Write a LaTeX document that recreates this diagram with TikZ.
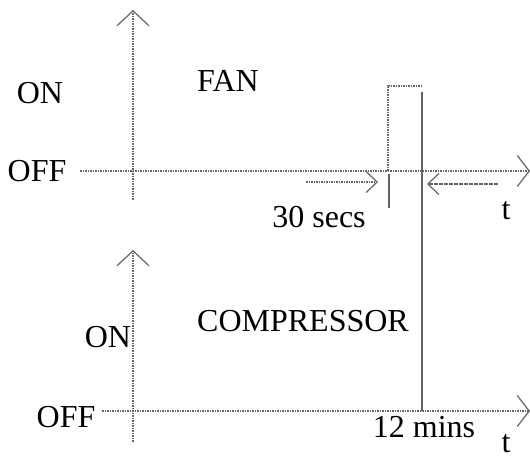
\documentclass[tikz,border=0pt]{standalone}
\usepackage{fontspec}
\setmainfont{Liberation Serif}
\usetikzlibrary{arrows.meta}
\definecolor{lineg}{RGB}{100,100,100}

\begin{document}
\begin{tikzpicture}[
  x=0.5pt, y=-0.5pt,
  lbl/.style={inner sep=0pt, font=\fontsize{16}{19}\selectfont},
  axis/.style={draw=lineg, line width=1.15pt, dash pattern=on 0.9pt off 0.35pt},
  guide/.style={draw=lineg, line width=0.6pt},
  axishead/.style={-{Straight Barb[length=7.5pt, width=16pt, line width=0.6pt]}},
  lowhead/.style={-{Straight Barb[length=6pt, width=15.5pt, line width=0.6pt]}},
  gaphead/.style={-{Straight Barb[length=5.5pt, width=10.5pt, line width=0.6pt]}}
]
\useasboundingbox (0,0) rectangle (530,459);

% fan chart
\coordinate (fantop) at (133,10);
\coordinate (fanbot) at (133,200);
\coordinate (fanleft) at (80,171);
\coordinate (fanright) at (530,171);
\coordinate (pulsebase) at (388,171);
\coordinate (pulseend) at (421,86);
\coordinate (ticktop) at (389,174);
\coordinate (tickbot) at (389,208);
\coordinate (gapafrom) at (306,182);
\coordinate (gapato) at (378,182);
\coordinate (gapbfrom) at (498,184);
\coordinate (gapbto) at (427,184);

% compressor chart
\coordinate (comptop) at (133,250);
\coordinate (compbot) at (133,442);
\coordinate (compleft) at (102,411);
\coordinate (compright) at (530,411);
\coordinate (stoptop) at (422,92);
\coordinate (stopbot) at (422,411);

\draw[axis, axishead] (fanbot) -- (fantop);
\draw[axis, lowhead] (fanleft) -- (fanright);
\draw[axis] (pulsebase) |- (pulseend);
\draw[guide] (ticktop) -- (tickbot);
\draw[axis, gaphead] (gapafrom) -- (gapato);
\draw[axis, gaphead] (gapbfrom) -- (gapbto);

\draw[axis, axishead] (compbot) -- (comptop);
\draw[axis, lowhead] (compleft) -- (compright);
\draw[guide] (stoptop) -- (stopbot);

\node[lbl] (fanon) at (40,93) {ON};
\node[lbl] (fanoff) at (37,171) {OFF};
\node[lbl] (fanname) at (228,81) {FAN};
\node[lbl] (secs) at (319,217) {30 secs};
\node[lbl] (fant) at (506,211) {t};

\node[lbl] (compon) at (108,337) {ON};
\node[lbl] (compoff) at (66,417) {OFF};
\node[lbl] (compname) at (303,321) {COMPRESSOR};
\node[lbl] (mins) at (424,427) {12 mins};
\node[lbl] (compt) at (506,444) {t};
\end{tikzpicture}
\end{document}
